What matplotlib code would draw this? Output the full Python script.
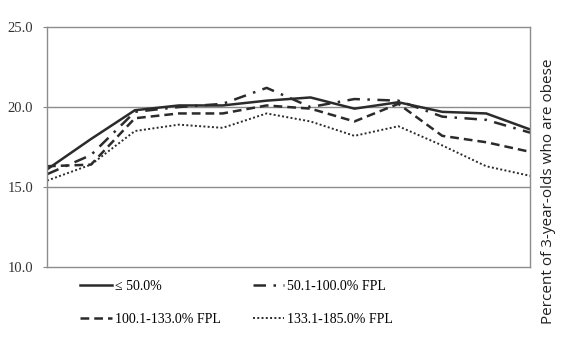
import numpy as np
import matplotlib
matplotlib.use('Agg')
import matplotlib.pyplot as plt

# values (12 time points, no x labels shown)
periods = list(range(12))
fpl_050 = [16.1, 18.0, 19.8, 20.1, 20.1, 20.4, 20.6, 19.9, 20.3, 19.7, 19.6, 18.6]
fpl_100 = [15.8, 17.0, 19.7, 20.0, 20.2, 21.2, 20.0, 20.5, 20.4, 19.4, 19.2, 18.4]
fpl_133 = [16.3, 16.4, 19.3, 19.6, 19.6, 20.1, 19.9, 19.1, 20.2, 18.2, 17.8, 17.2]
fpl_185 = [15.4, 16.4, 18.5, 18.9, 18.7, 19.6, 19.1, 18.2, 18.8, 17.6, 16.3, 15.7]
labels = ['≤ 50.0%', '50.1-100.0% FPL', '100.1-133.0% FPL', '133.1-185.0% FPL']
yticks = [10.0, 15.0, 20.0, 25.0]

serif = ['Liberation Serif', 'DejaVu Serif']
plt.rcParams['font.family'] = serif

fig = plt.figure(figsize=(5.7, 3.47), dpi=100)
ax = fig.add_axes([0.0825, 0.2305, 0.8475, 0.6915])

line_col = '#2b2b2b'
l1, = ax.plot(periods, fpl_050, color=line_col, lw=1.8, ls='-', label=labels[0])
l2, = ax.plot(periods, fpl_100, color=line_col, lw=1.8, ls=(0, (5, 3, 1, 3)), label=labels[1])
l3, = ax.plot(periods, fpl_133, color=line_col, lw=1.8, ls=(0, (3.5, 2)), label=labels[2])
l4, = ax.plot(periods, fpl_185, color=line_col, lw=1.4, ls=(0, (1, 1.2)), label=labels[3])

ax.set_xlim(periods[0], periods[-1])
ax.set_ylim(10, 25)
ax.set_yticks(yticks)
ax.set_yticklabels(['%.1f' % v for v in yticks], fontsize=10.5, color='#333333')
ax.set_xticks([])
ax.tick_params(axis='y', length=3, width=0.8, color='#888888', pad=7)

for s in ax.spines.values():
    s.set_color('#8c8c8c')
    s.set_linewidth(1.0)
for v in [15.0, 20.0]:
    ax.axhline(v, color='#8c8c8c', lw=1.0, zorder=0)

# legend is filled column by column, so order it to read row by row
ax.legend([l1, l3, l2, l4], [labels[0], labels[2], labels[1], labels[3]],
          loc='upper left', bbox_to_anchor=(80 / 570, 1 - 280 / 347),
          bbox_transform=fig.transFigure, ncol=2, frameon=False,
          fontsize=10, handlelength=2.3, handletextpad=0.2,
          columnspacing=2.3, labelspacing=1.45, borderpad=0, borderaxespad=0)

fig.text(0.962, 0.45, 'Percent of 3-year-olds who are obese', rotation=90,
         ha='center', va='center', fontsize=11, color='#222222',
         family=['Open Sans', 'DejaVu Sans'])

fig.savefig('out.png', dpi=100)
